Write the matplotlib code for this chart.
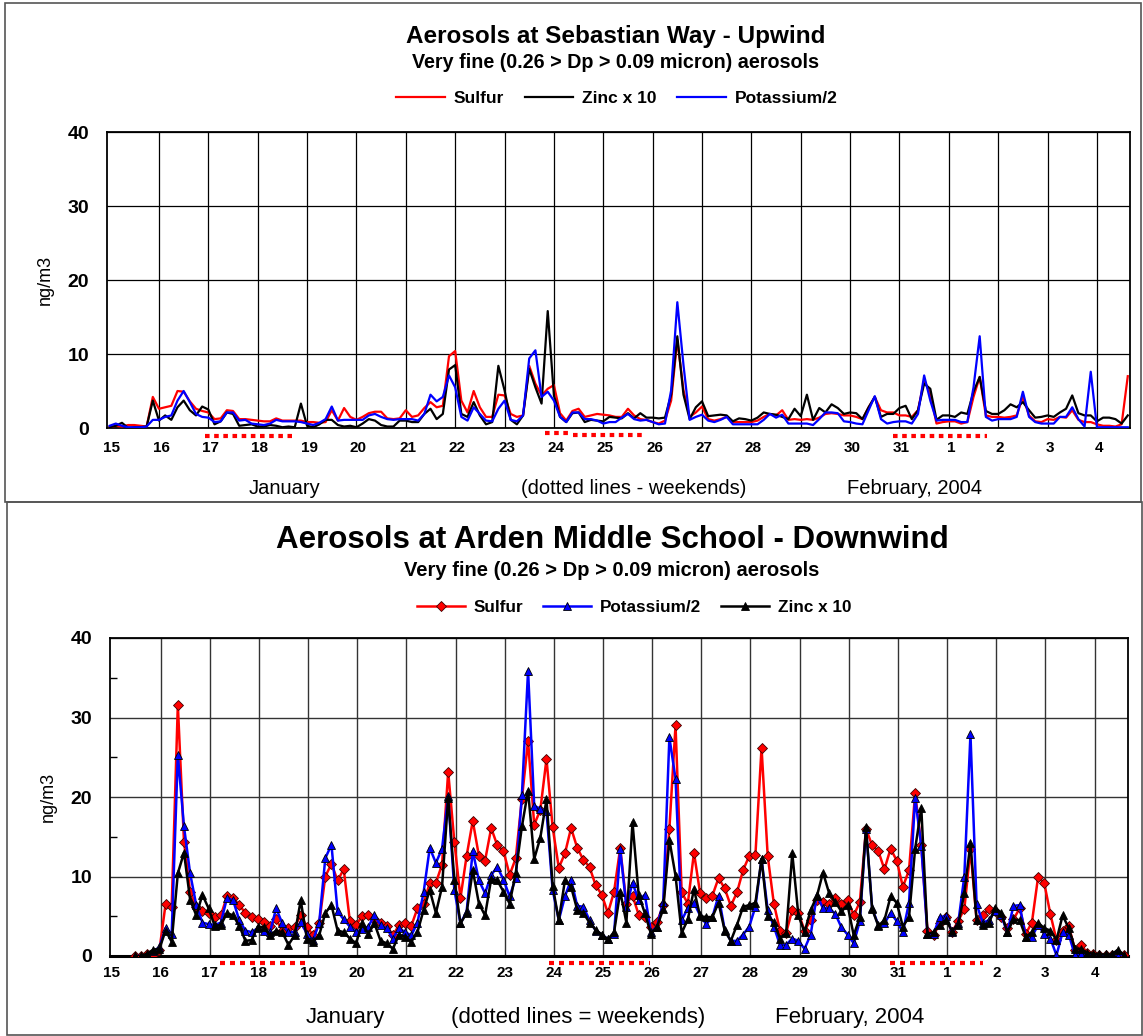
import numpy as np
import matplotlib
matplotlib.use("Agg")
import matplotlib.pyplot as plt
import matplotlib.transforms as mtransforms
from matplotlib.patches import Rectangle

plt.rcParams['font.family'] = ['Liberation Sans', 'DejaVu Sans']

nan = np.nan

# Day labels along the x axis (Jan 15 .. Feb 4, 2004)
day_labels = ['15', '16', '17', '18', '19', '20', '21', '22', '23', '24', '25',
              '26', '27', '28', '29', '30', '31', '1', '2', '3', '4']

# ---- Sebastian Way (upwind), 3-hour samples, ng/m3 ----
up_sulfur = [
    0.1, 0.3, 0.2, 0.4, 0.4, 0.3, 0.2, 4.2,
    2.6, 2.8, 3.0, 5.0, 4.9, 3.6, 2.6, 2.3,
    2.1, 1.2, 1.3, 2.4, 2.3, 1.2, 1.2, 1.1,
    1.0, 0.9, 0.9, 1.3, 1.0, 1.0, 1.0, 1.0,
    0.8, 0.8, 0.7, 0.8, 2.4, 1.0, 2.7, 1.5,
    1.1, 1.5, 2.0, 2.2, 2.2, 1.3, 1.2, 1.3,
    2.4, 1.5, 1.7, 2.7, 3.5, 2.8, 3.0, 9.7,
    10.4, 3.7, 2.1, 5.0, 2.8, 1.5, 1.5, 4.5,
    4.4, 1.9, 1.5, 1.7, 8.4, 6.0, 4.4, 5.3,
    5.8, 2.0, 1.0, 2.3, 2.6, 1.5, 1.7, 1.9,
    1.8, 1.7, 1.5, 1.5, 2.6, 1.7, 1.2, 1.1,
    0.8, 0.6, 1.0, 3.7, 11.9, 5.1, 1.5, 2.1,
    2.9, 1.2, 1.0, 1.2, 1.5, 0.8, 0.8, 0.8,
    0.8, 1.0, 1.5, 1.9, 1.7, 2.4, 1.1, 1.2,
    1.1, 1.2, 1.1, 1.4, 1.9, 2.0, 1.9, 1.7,
    1.7, 1.5, 1.2, 2.8, 4.2, 2.4, 2.1, 2.1,
    1.7, 1.7, 1.5, 2.4, 6.5, 4.6, 0.6, 0.8,
    0.9, 0.9, 0.6, 0.8, 4.2, 6.9, 1.7, 1.5,
    1.5, 1.4, 1.5, 1.7, 4.2, 1.7, 0.9, 0.8,
    1.2, 1.1, 1.5, 1.4, 2.4, 1.1, 0.8, 0.8,
    0.5, 0.3, 0.3, 0.2, 0.5, 7.0]

up_zinc = [
    0.1, 0.3, 0.7, 0.0, 0.1, 0.1, 0.2, 3.7,
    1.0, 1.7, 1.1, 2.8, 3.7, 2.4, 1.7, 2.9,
    2.5, 0.5, 0.9, 2.1, 1.9, 0.3, 0.4, 0.5,
    0.2, 0.2, 0.4, 0.3, 0.1, 0.2, 0.1, 3.3,
    0.3, 0.1, 0.5, 1.1, 1.1, 0.4, 0.2, 0.3,
    0.1, 0.6, 1.2, 1.0, 0.4, 0.2, 0.2, 1.0,
    1.0, 0.8, 0.8, 1.9, 2.6, 1.2, 1.9, 7.9,
    8.5, 1.9, 1.5, 3.5, 1.7, 0.5, 0.8, 8.4,
    5.1, 1.1, 0.5, 1.7, 8.0, 5.5, 3.3, 15.8,
    4.4, 1.5, 0.8, 2.0, 2.1, 0.8, 1.1, 1.0,
    0.9, 1.5, 1.4, 1.3, 2.0, 1.3, 2.0, 1.4,
    1.4, 1.3, 1.4, 4.5, 12.4, 4.5, 1.2, 2.8,
    3.6, 1.6, 1.7, 1.8, 1.7, 0.9, 1.3, 1.2,
    1.0, 1.4, 2.1, 1.9, 1.8, 1.5, 1.2, 2.6,
    1.6, 4.5, 1.1, 2.7, 2.1, 3.2, 2.7, 1.9,
    2.1, 2.0, 1.2, 2.8, 4.2, 1.5, 1.9, 1.9,
    2.7, 3.0, 1.2, 2.4, 6.0, 5.3, 1.1, 1.7,
    1.7, 1.5, 2.1, 1.9, 4.9, 6.9, 2.3, 1.9,
    1.9, 2.4, 3.2, 2.8, 3.5, 2.4, 1.4, 1.5,
    1.7, 1.5, 2.1, 2.6, 4.4, 2.0, 1.7, 1.7,
    0.9, 1.4, 1.4, 1.2, 0.6, 1.7]

up_potassium = [
    0.3, 0.6, 0.3, 0.1, 0.1, 0.1, 0.2, 1.1,
    1.1, 1.5, 1.7, 3.7, 5.0, 3.5, 1.9, 1.5,
    1.4, 0.8, 0.9, 2.1, 2.1, 1.0, 1.1, 0.6,
    0.5, 0.4, 0.6, 1.1, 0.9, 0.9, 0.9, 0.8,
    0.6, 0.4, 0.7, 1.2, 2.9, 1.0, 1.1, 1.1,
    1.1, 1.1, 1.7, 1.9, 1.5, 1.2, 1.1, 1.2,
    1.2, 1.2, 1.0, 1.9, 4.5, 3.6, 4.2, 7.1,
    5.5, 1.5, 1.0, 2.8, 1.9, 1.0, 0.9, 2.6,
    3.7, 1.1, 0.9, 1.7, 9.4, 10.5, 4.2, 4.9,
    3.7, 1.5, 0.8, 2.1, 2.1, 1.2, 1.2, 1.0,
    0.6, 0.8, 0.8, 1.4, 1.9, 1.2, 1.0, 1.1,
    0.8, 0.5, 0.6, 5.1, 17.0, 8.5, 1.1, 1.5,
    1.8, 1.0, 0.8, 1.1, 1.5, 0.5, 0.5, 0.5,
    0.5, 0.5, 1.1, 1.9, 1.4, 1.8, 0.6, 0.6,
    0.6, 0.6, 0.4, 1.2, 2.1, 2.1, 2.0, 0.9,
    0.8, 0.6, 0.5, 2.4, 4.3, 1.2, 0.6, 0.8,
    0.9, 0.9, 0.6, 1.9, 7.1, 3.7, 1.0, 1.1,
    1.1, 1.1, 0.8, 0.8, 5.5, 12.4, 1.5, 1.0,
    1.2, 1.2, 1.2, 1.5, 4.9, 1.5, 0.8, 0.6,
    0.6, 0.6, 1.5, 1.5, 2.8, 1.2, 0.2, 7.6,
    0.1, 0.1, 0.1, 0.1, 0.1, 0.1]

# ---- Arden Middle School (downwind), 3-hour samples, ng/m3 ----
dn_sulfur = [
    nan, nan, nan, nan, 0.0, 0.0, 0.2, 0.1,
    0.7, 6.5, 6.2, 31.6, 14.4, 8.1, 6.2, 5.7,
    5.4, 4.9, 5.1, 7.5, 7.3, 6.4, 5.4, 4.9,
    4.6, 4.3, 3.8, 4.6, 3.2, 3.5, 3.7, 5.1,
    3.7, 2.6, 4.1, 10.0, 11.6, 9.5, 10.9, 4.4,
    3.9, 5.0, 5.1, 4.6, 4.1, 3.8, 2.6, 3.9,
    4.2, 3.8, 6.0, 6.6, 9.2, 9.2, 11.5, 23.2,
    14.4, 7.3, 12.6, 17.0, 12.6, 12.0, 16.1, 13.9,
    13.2, 10.2, 12.3, 19.8, 27.1, 16.5, 18.4, 24.8,
    16.2, 11.1, 12.9, 16.1, 13.6, 12.1, 11.2, 8.9,
    7.7, 5.4, 8.1, 13.6, 6.6, 7.6, 5.2, 4.9,
    3.7, 4.3, 6.4, 16.0, 29.0, 8.0, 6.6, 13.0,
    7.9, 7.3, 7.6, 9.8, 8.5, 6.3, 8.0, 10.8,
    12.6, 12.7, 26.2, 12.6, 6.6, 3.2, 2.9, 5.8,
    5.4, 3.2, 4.5, 7.0, 6.8, 6.5, 7.3, 6.6,
    7.1, 5.1, 6.8, 16.0, 13.9, 13.2, 10.9, 13.5,
    12.0, 8.7, 10.8, 20.5, 13.9, 3.2, 2.6, 4.1,
    4.9, 3.0, 4.4, 5.9, 13.4, 4.5, 5.1, 5.9,
    5.6, 4.9, 3.5, 4.6, 6.0, 2.8, 4.2, 9.9,
    9.2, 5.3, 2.0, 3.2, 3.8, 0.8, 1.4, 0.4,
    0.2, 0.1, 0.1, 0.1, 0.3, 0.1]

dn_potassium = [
    nan, nan, nan, nan, 0.0, 0.0, 0.1, 0.6,
    1.1, 3.5, 2.8, 25.3, 16.3, 10.4, 6.4, 4.2,
    4.0, 3.9, 4.2, 7.3, 7.0, 4.5, 3.2, 3.0,
    3.5, 3.2, 3.0, 6.0, 4.1, 3.0, 3.0, 4.3,
    2.8, 2.0, 4.1, 12.3, 14.0, 5.6, 4.6, 3.7,
    3.0, 3.4, 3.7, 5.1, 3.9, 3.5, 2.2, 3.5,
    3.0, 2.6, 4.2, 8.0, 13.6, 11.7, 13.5, 20.1,
    8.3, 4.1, 5.6, 13.2, 9.5, 7.9, 10.2, 11.2,
    9.6, 7.5, 9.8, 20.3, 35.9, 18.9, 18.5, 18.2,
    8.3, 4.5, 7.5, 9.6, 6.3, 6.2, 4.5, 3.2,
    2.7, 2.1, 2.8, 13.4, 6.2, 9.2, 7.0, 7.7,
    3.0, 3.7, 6.8, 27.5, 22.3, 4.5, 6.0, 6.7,
    5.1, 4.0, 4.9, 7.6, 3.3, 1.9, 1.9, 2.7,
    3.7, 6.2, 12.2, 5.8, 3.7, 1.4, 1.4, 2.2,
    1.9, 0.9, 2.7, 7.7, 6.0, 6.0, 5.3, 3.6,
    2.7, 1.6, 4.4, 16.0, 6.0, 3.9, 4.1, 5.4,
    4.4, 3.0, 6.7, 19.9, 13.8, 2.8, 2.8, 4.9,
    5.0, 3.0, 4.1, 10.0, 27.9, 6.5, 4.2, 4.5,
    5.6, 5.1, 3.0, 6.3, 6.4, 2.4, 2.4, 3.9,
    2.8, 2.2, 0.1, 3.0, 2.7, 0.1, 0.3, 0.1,
    0.1, 0.1, 0.1, 0.0, 0.0, 0.0]

dn_zinc = [
    nan, nan, nan, nan, 0.0, 0.0, 0.3, 0.8,
    0.9, 3.2, 1.8, 10.4, 13.0, 7.1, 5.1, 7.7,
    6.0, 3.8, 3.9, 5.4, 5.1, 3.8, 1.9, 2.0,
    3.7, 3.6, 2.6, 3.2, 3.0, 1.4, 2.6, 7.0,
    2.2, 1.8, 2.6, 5.4, 6.4, 3.2, 3.0, 2.2,
    1.6, 4.1, 2.8, 4.1, 1.9, 1.6, 0.9, 2.7,
    2.4, 1.8, 3.0, 5.8, 8.3, 5.4, 8.7, 19.9,
    9.6, 4.1, 5.4, 10.8, 6.6, 5.1, 9.7, 9.5,
    8.1, 6.6, 10.5, 16.3, 20.8, 12.2, 14.9, 19.7,
    8.8, 4.5, 9.5, 8.7, 5.8, 5.4, 4.2, 3.3,
    2.7, 2.1, 3.0, 8.1, 4.2, 16.8, 7.7, 5.4,
    2.8, 3.7, 5.9, 14.6, 10.1, 2.9, 4.6, 8.4,
    5.0, 4.9, 4.9, 6.7, 3.2, 1.9, 3.9, 6.2,
    6.4, 6.7, 12.2, 5.0, 4.3, 2.2, 2.9, 12.9,
    5.1, 3.0, 5.8, 7.5, 10.5, 7.9, 6.8, 5.6,
    6.4, 2.6, 4.9, 16.2, 5.9, 3.8, 4.5, 7.5,
    6.7, 3.7, 4.9, 13.5, 18.6, 2.8, 3.0, 3.9,
    4.5, 3.2, 3.9, 7.9, 14.2, 4.5, 3.9, 4.1,
    6.1, 5.4, 3.0, 4.6, 4.5, 2.4, 3.0, 4.2,
    3.5, 3.2, 2.0, 5.1, 3.5, 0.9, 0.9, 0.4,
    0.3, 0.2, 0.2, 0.2, 0.8, 0.1]

# Weekend spans (days after Jan 15, 00:00) marked with dotted red lines
up_weekends = [(1.93, 3.70), (8.82, 9.30), (9.38, 10.84), (15.87, 17.77)]
up_weekend_levels = [-0.027, -0.018, -0.025, -0.027]
dn_weekends = [(2.21, 4.04), (8.90, 10.95), (15.83, 17.72)]

# sample times in days (8 samples per day)
t_up = np.arange(len(up_sulfur)) * 0.125
t_dn = np.arange(len(dn_sulfur)) * 0.125 - 0.025

W, H = 1143, 1036
fig = plt.figure(figsize=(W / 100, H / 100), dpi=100)


def fx(px):
    return px / W


def fy(py):
    return 1 - py / H


# panel frames
fig.patches.append(Rectangle((fx(5), fy(502)), fx(1141) - fx(5), (502 - 3) / H,
                             transform=fig.transFigure, fill=False,
                             edgecolor='#555555', linewidth=1.2))
fig.patches.append(Rectangle((fx(7), fy(1035)), fx(1142) - fx(7), (1035 - 502) / H,
                             transform=fig.transFigure, fill=False,
                             edgecolor='#555555', linewidth=1.2))

ax1 = fig.add_axes([fx(107), fy(428), (1130 - 107) / W, (428 - 132) / H])
ax2 = fig.add_axes([fx(110), fy(956), (1128 - 110) / W, (956 - 638) / H])

label_shift = mtransforms.ScaledTranslation(2 / 100, 0, fig.dpi_scale_trans)

for ax, xl in ((ax1, (-0.053, 20.67)), (ax2, (-0.03, 20.68))):
    ax.set_xlim(*xl)
    ax.set_ylim(0, 40)
    ax.set_xticks(np.arange(len(day_labels)))
    ax.set_xticklabels(day_labels, fontsize=11, fontweight='bold')
    ax.set_yticks([0, 10, 20, 30, 40])
    ax.set_yticklabels(['0', '10', '20', '30', '40'], fontsize=14, fontweight='bold')
    ax.tick_params(axis='x', length=0, pad=9)
    ax.tick_params(axis='y', length=0, pad=13)
    for lbl in ax.get_xticklabels():
        lbl.set_transform(lbl.get_transform() + label_shift)
    ax.set_axisbelow(True)
    ax.set_ylabel('ng/m3', fontsize=13, labelpad=10)

ax1.grid(True, color='black', linewidth=0.9)
for s in ax1.spines.values():
    s.set_linewidth(1.3)
ax2.grid(True, color='#333333', linewidth=1.0)
for s in ax2.spines.values():
    s.set_linewidth(1.3)
ax2.spines['bottom'].set_linewidth(2.2)
ax2.set_yticks([5, 15, 25, 35], minor=True)
ax2.tick_params(axis='y', which='minor', direction='in', length=5, width=1)
ax2.tick_params(axis='x', pad=7)
for ax in (ax1, ax2):
    ax.xaxis.get_gridlines()[0].set_visible(False)

# upwind lines
ax1.plot(t_up, up_sulfur, color='#ff0000', lw=1.6, label='Sulfur', zorder=3)
ax1.plot(t_up, up_zinc, color='black', lw=1.6, label='Zinc x 10', zorder=3)
ax1.plot(t_up, up_potassium, color='#0000ff', lw=1.6, label='Potassium/2', zorder=3)

# downwind lines with markers
ax2.plot(t_dn, dn_sulfur, color='#ff0000', lw=1.8, marker='D', ms=5.3,
         mfc='#ff0000', mec='#400000', mew=0.6, label='Sulfur', zorder=3)
ax2.plot(t_dn, dn_potassium, color='#0000ff', lw=1.8, marker='^', ms=6.3,
         mfc='#0000ff', mec='black', mew=0.6, label='Potassium/2', zorder=3)
ax2.plot(t_dn, dn_zinc, color='black', lw=1.8, marker='^', ms=6.3,
         mfc='black', mec='black', mew=0.6, label='Zinc x 10', zorder=3)

# weekend markers below the axes
for (a, b), lev in zip(up_weekends, up_weekend_levels):
    ax1.plot([a, b], [lev, lev], transform=ax1.get_xaxis_transform(),
             color='#ff0000', lw=3, ls=(0, (1.1, 1.1)), clip_on=False,
             dash_capstyle='butt')
for a, b in dn_weekends:
    ax2.plot([a, b], [-0.022, -0.022], transform=ax2.get_xaxis_transform(),
             color='#ff0000', lw=3, ls=(0, (1.2, 1.2)), clip_on=False,
             dash_capstyle='butt')

# titles
fig.text(fx(616), fy(37), 'Aerosols at Sebastian Way - Upwind', ha='center', va='center',
         fontsize=17.5, fontweight='bold')
fig.text(fx(616), fy(63), 'Very fine (0.26 > Dp > 0.09 micron) aerosols', ha='center',
         va='center', fontsize=14.2, fontweight='bold')
fig.text(fx(612), fy(540), 'Aerosols at Arden Middle School - Downwind', ha='center',
         va='center', fontsize=22.5, fontweight='bold')
fig.text(fx(612), fy(570), 'Very fine (0.26 > Dp > 0.09 micron) aerosols', ha='center',
         va='center', fontsize=14.5, fontweight='bold')

# legends
ax1.legend(loc='center', bbox_to_anchor=(fx(617), fy(98)),
           bbox_transform=fig.transFigure, ncol=3, frameon=False,
           prop={'weight': 'bold', 'size': 12.5}, handlelength=2.8,
           columnspacing=1.2, handletextpad=0.5)
ax2.legend(loc='center', bbox_to_anchor=(fx(634), fy(607)),
           bbox_transform=fig.transFigure, ncol=3, frameon=False,
           prop={'weight': 'bold', 'size': 12.3}, handlelength=2.8,
           columnspacing=1.2, handletextpad=0.5)

# month captions
for x, s in ((285, 'January'), (634, '(dotted lines - weekends)'), (915, 'February, 2004')):
    fig.text(fx(x), fy(488), s, ha='center', va='center', fontsize=14.5)
for x, s in ((345, 'January'), (578, '(dotted lines = weekends)'), (850, 'February, 2004')):
    fig.text(fx(x), fy(1017), s, ha='center', va='center', fontsize=16)

fig.savefig('out.png', dpi=100)
